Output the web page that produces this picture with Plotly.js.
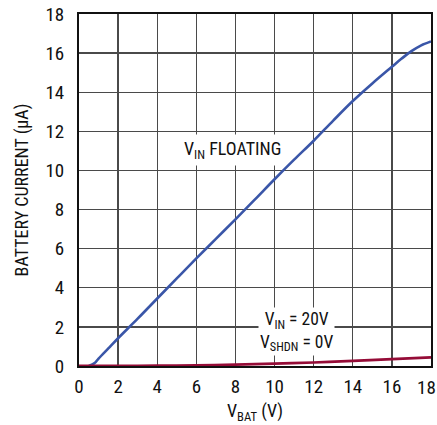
<!DOCTYPE html>
<html>
<head>
<meta charset="utf-8">
<script src="https://cdn.plot.ly/plotly-3.0.1.min.js"></script>
<style>
html,body{margin:0;padding:0;background:#fff;}
#chart{width:437px;height:425px;}
</style>
</head>
<body>
<div id="chart"></div>
<script>
// V_IN floating curve
var floatX = [0.5, 0.8, 1.0, 1.5, 2.0, 3.0, 4.0, 5.0, 6.0, 7.0, 8.0, 9.0, 10.0, 11.0, 12.0, 13.0, 14.0, 15.0, 16.0, 16.5, 17.0, 17.5, 18.0];
var floatY = [0.0, 0.15, 0.38, 0.9, 1.42, 2.42, 3.45, 4.48, 5.5, 6.5, 7.5, 8.52, 9.55, 10.55, 11.52, 12.55, 13.55, 14.45, 15.3, 15.72, 16.1, 16.4, 16.6];
// V_IN = 20V, V_SHDN = 0V curve
var shdnX = [0, 2, 4, 6, 8, 10, 12, 14, 16, 18];
var shdnY = [0.01, 0.01, 0.02, 0.04, 0.07, 0.12, 0.18, 0.26, 0.35, 0.44];
var xTicks = [0, 2, 4, 6, 8, 10, 12, 14, 16, 18];
var yTicks = [0, 2, 4, 6, 8, 10, 12, 14, 16, 18];

var FONT = '"Liberation Sans Narrow", "Roboto Condensed", "Liberation Sans", Arial, sans-serif';
var TICKSIZE = 19;

var traces = [
  {x: floatX, y: floatY, mode: 'lines', line: {color: '#3a56a8', width: 2.6, shape: 'spline'}, hoverinfo: 'none'},
  {x: shdnX, y: shdnY, mode: 'lines', line: {color: '#950c37', width: 2.6, shape: 'spline'}, hoverinfo: 'none'}
];

var lastX = xTicks[xTicks.length - 1];

var layout = {
  width: 437, height: 425,
  margin: {l: 79, r: 6, t: 14, b: 59},
  paper_bgcolor: '#fff', plot_bgcolor: '#fff',
  showlegend: false,
  font: {family: FONT, size: 15, color: '#111'},
  xaxis: {
    range: [0, 18], tickvals: xTicks.slice(0, -1), ticktext: xTicks.slice(0, -1).map(String),
    showgrid: true, gridcolor: '#4a4a4a', gridwidth: 1.4,
    showline: true, linecolor: '#111', linewidth: 2, mirror: true,
    zeroline: false, ticks: '', ticklen: 0, ticklabelstandoff: 2,
    tickfont: {family: FONT, size: TICKSIZE, color: '#111'},
    title: {text: 'V<sub>BAT</sub> (V)', font: {family: FONT, size: 18, color: '#111'}, standoff: 8},
    fixedrange: true
  },
  yaxis: {
    range: [0, 18], tickvals: yTicks, ticktext: yTicks.map(String),
    showgrid: true, gridcolor: '#4a4a4a', gridwidth: 1.4,
    showline: true, linecolor: '#111', linewidth: 2, mirror: true,
    zeroline: false, ticks: '', ticklen: 0, ticklabelstandoff: 9,
    tickfont: {family: FONT, size: TICKSIZE, color: '#111'},
    title: {text: 'BATTERY CURRENT (µA)', font: {family: FONT, size: 18, color: '#111'}, standoff: 12},
    fixedrange: true
  },
  annotations: [
    {x: lastX, y: 0, xref: 'x', yref: 'paper', text: String(lastX), showarrow: false,
     xanchor: 'right', xshift: 7, yanchor: 'middle', yshift: -21, font: {family: FONT, size: TICKSIZE, color: '#111'}},
    {x: 7.85, y: 11.05, xref: 'x', yref: 'y', text: 'V<sub>IN</sub> FLOATING', showarrow: false,
     bgcolor: '#fff', borderpad: 3, font: {family: FONT, size: 18, color: '#111'}},
    {x: 11.1, y: 1.78, xref: 'x', yref: 'y', text: 'V<sub>IN</sub> = 20V<br>V<sub>SHDN</sub> = 0V', showarrow: false,
     bgcolor: '#fff', borderpad: 1, align: 'center', font: {family: FONT, size: 17.5, color: '#111'}}
  ]
};

Plotly.newPlot('chart', traces, layout, {displayModeBar: false, staticPlot: true});
</script>
</body>
</html>
